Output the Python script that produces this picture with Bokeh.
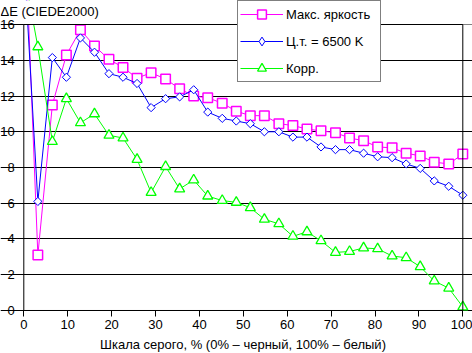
from bokeh.plotting import figure
from bokeh.models import Label, Legend, LegendItem, Range1d, FixedTicker, LinearAxis, BoxAnnotation
from bokeh.embed import file_html
from bokeh.resources import INLINE
from math import pi

# grey-scale steps (%)
gray = [0.0, 3.2, 6.5, 9.7, 12.9, 16.1, 19.4, 22.6, 25.8, 29.0, 32.3, 35.5,
        38.7, 41.9, 45.2, 48.4, 51.6, 54.8, 58.1, 61.3, 64.5, 67.7, 71.0, 74.2,
        77.4, 80.6, 83.9, 87.1, 90.3, 93.5, 96.8, 100.0]

max_brightness = [23.0, 3.1, 11.5, 14.3, 15.7, 14.8, 14.05, 13.6, 13.0, 13.3, 12.95, 12.4,
                  12.0, 11.9, 11.6, 11.15, 10.9, 10.9, 10.45, 10.35, 10.15, 10.05, 9.95, 9.65,
                  9.5, 9.15, 9.1, 8.8, 8.65, 8.3, 8.2, 8.75]
ct6500 = [19.9, 6.1, 14.15, 13.05, 15.25, 14.45, 13.25, 13.05, 12.7, 11.35, 11.85, 11.95,
          12.35, 11.1, 10.75, 10.6, 10.45, 10.0, 10.0, 9.7, 9.7, 9.15, 9.0, 9.0,
          8.8, 8.6, 8.55, 8.2, 7.95, 7.25, 6.95, 6.45]
corr = [19.0, 14.75, 9.45, 11.85, 10.5, 11.0, 9.8, 9.65, 8.45, 6.6, 8.05, 6.8,
        7.3, 6.4, 6.15, 6.05, 5.75, 5.1, 4.85, 4.15, 4.4, 3.9, 3.25, 3.3,
        3.5, 3.45, 3.05, 2.95, 2.45, 1.65, 1.25, 0.2]

series_names = ["Макс. яркость", "Ц.т. = 6500 K", "Корр."]
x_ticks = [0, 10, 20, 30, 40, 50, 60, 70, 80, 90, 100]
y_ticks = [0, 2, 4, 6, 8, 10, 12, 14, 16]
x_lo, x_hi = 0, 100
y_lo, y_hi = 0, 16

FONT = "Liberation Sans"
MAGENTA, BLUE, GREEN = "#FF00FF", "#0000FF", "#00FF00"

# frame covers the whole canvas; axes are drawn at fixed locations inside it
p = figure(width=472, height=353, output_backend="svg", toolbar_location=None,
           x_range=Range1d(-5.31, 102.21), y_range=Range1d(-2.406, 17.343),
           x_axis_location=None, y_axis_location=None,
           min_border_left=0, min_border_right=0, min_border_top=0, min_border_bottom=0)
p.background_fill_color = "white"
p.border_fill_color = "white"
p.outline_line_color = None

p.xgrid.visible = False
p.ygrid.grid_line_color = "black"
p.ygrid.grid_line_width = 1
p.ygrid.ticker = FixedTicker(ticks=y_ticks)
p.ygrid.bounds = (x_lo, x_hi)

xaxis = LinearAxis(fixed_location=y_lo, bounds=(x_lo, x_hi), ticker=FixedTicker(ticks=x_ticks))
yaxis = LinearAxis(fixed_location=x_lo, ticker=FixedTicker(ticks=y_ticks))
for ax in (xaxis, yaxis):
    ax.axis_line_color = "black"
    ax.major_tick_line_color = "black"
    ax.minor_tick_line_color = None
    ax.major_label_text_font = FONT
    ax.major_label_text_font_size = "13px"
    ax.major_label_text_color = "black"
    ax.major_tick_in = 0
    ax.level = "overlay"
xaxis.major_tick_out = 6
xaxis.major_label_standoff = 4
yaxis.axis_line_color = None   # left edge is drawn by the plot-area border
yaxis.major_tick_out = 0
yaxis.major_label_standoff = 9
xaxis.axis_label = "Шкала серого, % (0% – черный, 100% – белый)"
xaxis.axis_label_text_font = FONT
xaxis.axis_label_text_font_size = "13px"
xaxis.axis_label_text_font_style = "normal"
xaxis.axis_label_text_color = "black"
xaxis.axis_label_standoff = 4
p.add_layout(xaxis, "below")
p.add_layout(yaxis, "left")

l1 = p.line(gray, max_brightness, line_color=MAGENTA, line_width=1)
s1 = p.scatter(gray, max_brightness, marker="square", size=9.5, line_color=MAGENTA,
               line_width=1.5, fill_color="white")
l2 = p.line(gray, ct6500, line_color=BLUE, line_width=1)
# legend swatch for the diamond series (legend swatches ignore marker angle);
# its own tiny marks are hidden under the rotated squares drawn next
s2_key = p.scatter(gray, ct6500, marker="diamond", size=1, line_color=BLUE,
                   line_width=1, fill_color="white")
s2 = p.scatter(gray, ct6500, marker="square", angle=pi / 4, size=5.8, line_color=BLUE,
               line_width=1, fill_color="white")
l3 = p.line(gray, corr, line_color=GREEN, line_width=1)
s3 = p.scatter(gray, corr, marker="triangle", size=10, line_color=GREEN,
               line_width=1.3, fill_color="white")

# white band above the plot area (values above 16 are cut off, as in the original)
p.add_layout(BoxAnnotation(bottom=y_hi, left=x_lo, fill_color="white", fill_alpha=1,
                           line_color=None))
# plot-area border
p.add_layout(BoxAnnotation(left=x_lo, right=x_hi, bottom=y_lo, top=y_hi, fill_alpha=0,
                           line_color="black", line_width=1, line_alpha=1))

title = Label(x=-5.31, y=y_hi, y_offset=13, text="ΔE (CIEDE2000)", text_font=FONT,
              text_font_size="13px", text_color="black", text_align="left",
              text_baseline="alphabetic")
p.add_layout(title)

legend = Legend(items=[LegendItem(label=series_names[0], renderers=[l1, s1]),
                       LegendItem(label=series_names[1], renderers=[l2, s2_key]),
                       LegendItem(label=series_names[2], renderers=[l3, s3])],
                location=(237, 271))
legend.border_line_color = "black"
legend.border_line_width = 1
legend.background_fill_color = "white"
legend.background_fill_alpha = 1
legend.label_text_font = FONT
legend.label_text_font_size = "13px"
legend.label_text_color = "black"
legend.glyph_width = 43
legend.glyph_height = 22
legend.label_height = 22
legend.label_width = 92
legend.spacing = 5
legend.padding = 2
legend.label_standoff = 3
legend.margin = 0
p.add_layout(legend, "center")

open("out.html", "w").write(file_html(p, INLINE))
